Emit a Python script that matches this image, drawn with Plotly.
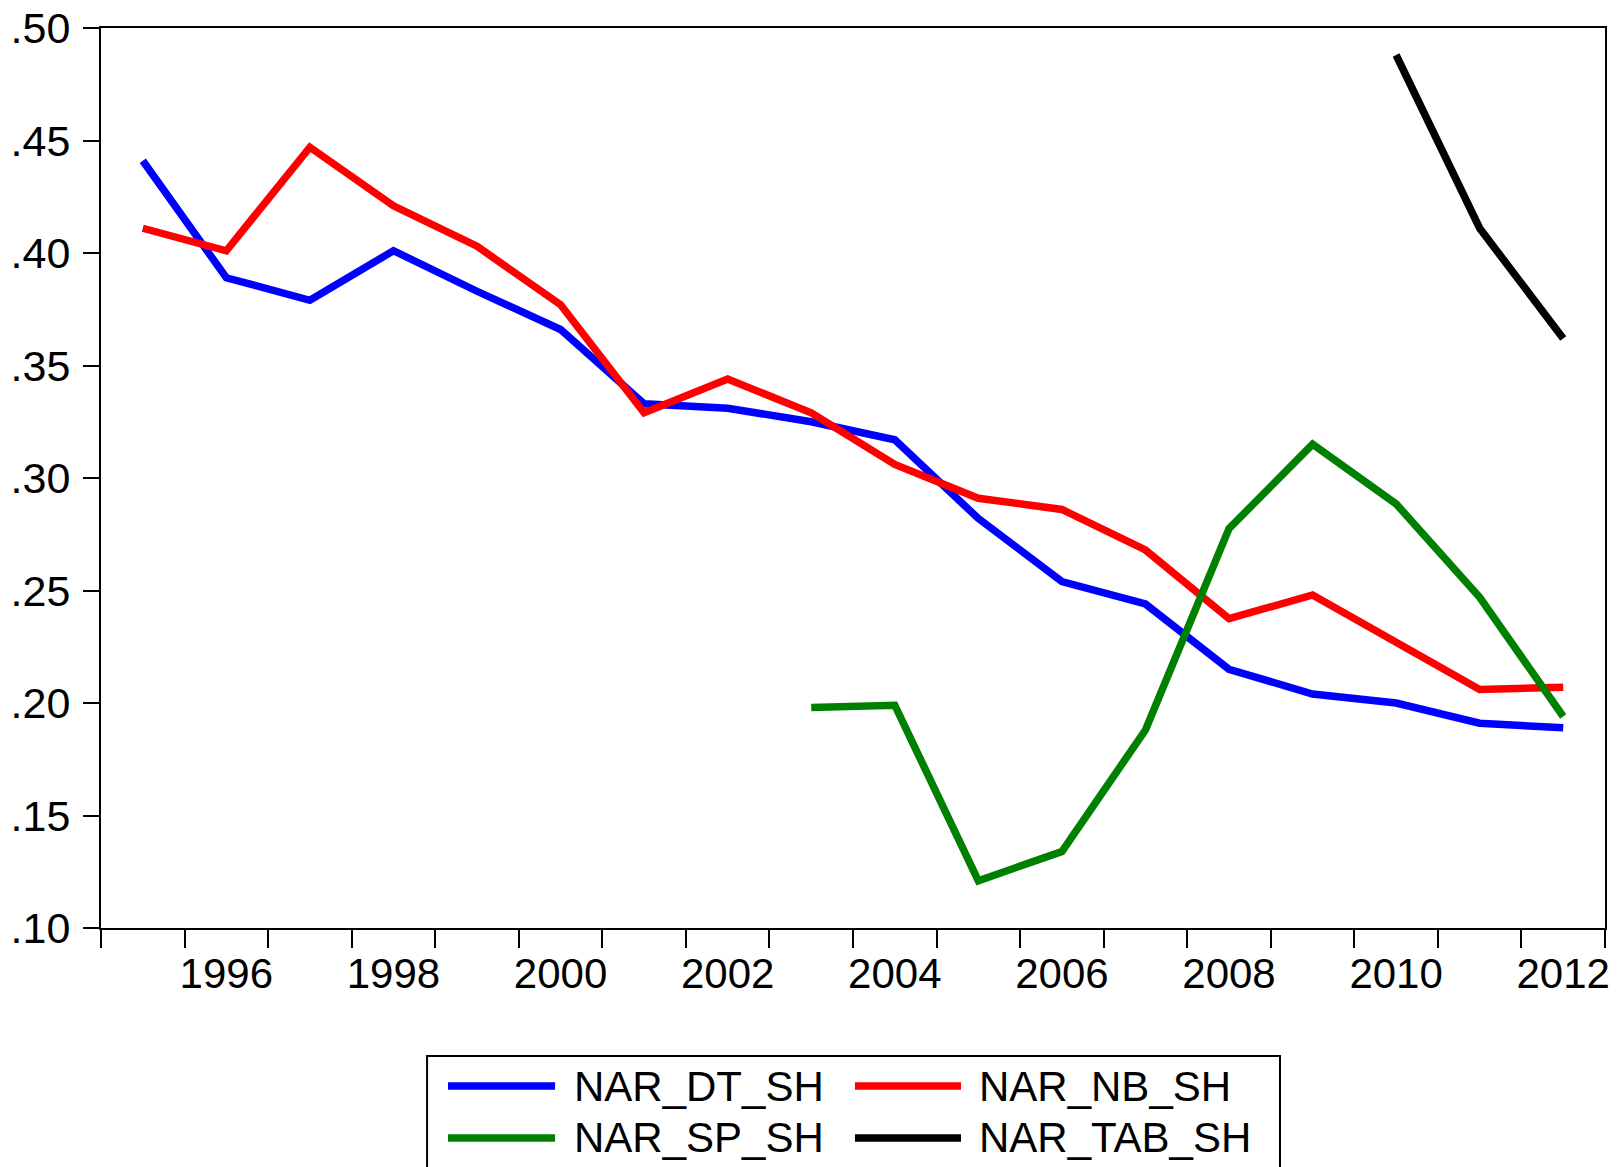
import plotly.graph_objects as go

years = list(range(1995, 2013))

nar_dt_sh = [0.441, 0.389, 0.379, 0.401, 0.383, 0.366, 0.333, 0.331, 0.325,
             0.317, 0.282, 0.254, 0.244, 0.215, 0.204, 0.200, 0.191, 0.189]
nar_nb_sh = [0.411, 0.401, 0.447, 0.421, 0.403, 0.377, 0.329, 0.344, 0.329,
             0.306, 0.291, 0.286, 0.268, 0.2375, 0.248, 0.227, 0.206, 0.207]
nar_sp_sh = [None] * 8 + [0.198, 0.199, 0.121, 0.134, 0.188, 0.2775, 0.315,
                          0.2885, 0.247, 0.194]
nar_tab_sh = [None] * 15 + [0.488, 0.411, 0.362]

y_ticks = [0.10, 0.15, 0.20, 0.25, 0.30, 0.35, 0.40, 0.45, 0.50]
y_labels = [".10", ".15", ".20", ".25", ".30", ".35", ".40", ".45", ".50"]
x_labels = [1996, 1998, 2000, 2002, 2004, 2006, 2008, 2010, 2012]

series = [
    ("NAR_DT_SH", nar_dt_sh, "#0000FF"),
    ("NAR_NB_SH", nar_nb_sh, "#FF0000"),
    ("NAR_SP_SH", nar_sp_sh, "#008000"),
    ("NAR_TAB_SH", nar_tab_sh, "#000000"),
]

FONT = "Liberation Sans, Arial, sans-serif"

fig = go.Figure()
for name, vals, col in series:
    fig.add_trace(go.Scatter(
        x=years, y=vals, name=name, mode="lines",
        line=dict(color=col, width=7.5), connectgaps=False,
    ))

# year boundaries for the small ticks
bounds = [y - 0.5 for y in years] + [years[-1] + 0.5]

# page body has an 8px margin, so margins are trimmed to land the frame
fig.update_layout(
    template="none",
    width=1622, height=1167,
    margin=dict(l=93, r=25, t=20, b=247),
    paper_bgcolor="white", plot_bgcolor="white",
    showlegend=False,
    font=dict(family=FONT, size=42, color="black"),
)
fig.update_xaxes(
    range=[bounds[0], bounds[-1]],
    tickmode="array", tickvals=x_labels, ticktext=[str(v) for v in x_labels],
    ticks="", showgrid=False, zeroline=False,
    showline=True, linecolor="black", linewidth=2, mirror=True,
    automargin=False, ticklabelstandoff=8, ticklabeloverflow="allow",
    tickfont=dict(size=42),
    minor=dict(tickmode="array", tickvals=bounds, ticks="outside",
               ticklen=18, tickwidth=2, tickcolor="black", showgrid=False),
)
fig.update_yaxes(
    range=[0.10, 0.50],
    tickmode="array", tickvals=y_ticks, ticktext=y_labels,
    ticks="outside", ticklen=16, tickwidth=2, tickcolor="black",
    showgrid=False, zeroline=False,
    showline=True, linecolor="black", linewidth=2, mirror=True,
    automargin=False, ticklabelstandoff=4, ticklabeloverflow="allow",
    tickfont=dict(size=43),
)

# legend drawn by hand, EViews style box below the plot
fig.add_shape(type="rect", xref="paper", yref="paper",
              x0=0.2168, x1=0.7839, y0=-0.33, y1=-0.1422,
              line=dict(color="black", width=2), fillcolor="white")
rows = [-0.1756, -0.2333]
cols = [(0.2307, 0.3019, 0.3132), (0.5013, 0.5718, 0.5824)]
for i, (name, _, col) in enumerate(series):
    ly = rows[i // 2]
    lx0, lx1, tx = cols[i % 2]
    fig.add_shape(type="line", xref="paper", yref="paper",
                  x0=lx0, x1=lx1, y0=ly, y1=ly,
                  line=dict(color=col, width=7.5))
    fig.add_annotation(x=tx, y=ly, xref="paper", yref="paper", text=name,
                       showarrow=False, xanchor="left", yanchor="middle",
                       font=dict(family=FONT, size=42, color="black"))

fig.write_html("out.html")
